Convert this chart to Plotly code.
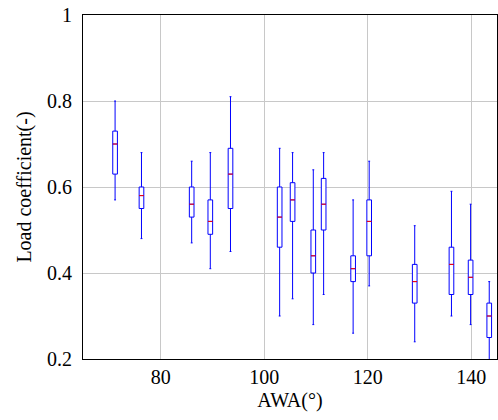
import plotly.graph_objects as go

awa = [71.2, 76.3, 86.0, 89.6, 93.5, 103.0, 105.5, 109.5, 111.5, 117.2, 120.3, 129.1, 136.2, 139.9, 143.5]
upper = [0.80, 0.68, 0.66, 0.68, 0.81, 0.69, 0.68, 0.64, 0.68, 0.57, 0.66, 0.51, 0.59, 0.56, 0.38]
q3 = [0.73, 0.60, 0.60, 0.57, 0.69, 0.60, 0.61, 0.50, 0.62, 0.44, 0.57, 0.42, 0.46, 0.43, 0.33]
median = [0.70, 0.58, 0.56, 0.52, 0.63, 0.53, 0.57, 0.44, 0.56, 0.41, 0.52, 0.38, 0.42, 0.39, 0.30]
q1 = [0.63, 0.55, 0.53, 0.49, 0.55, 0.46, 0.52, 0.40, 0.50, 0.38, 0.44, 0.33, 0.35, 0.35, 0.25]
lower = [0.57, 0.48, 0.47, 0.41, 0.45, 0.30, 0.34, 0.28, 0.35, 0.26, 0.37, 0.24, 0.30, 0.28, 0.17]

box_w = 0.9

fig = go.Figure()
fig.add_trace(go.Box(
    x=awa, q1=q1, median=median, q3=q3, lowerfence=lower, upperfence=upper,
    width=box_w, whiskerwidth=0.4,
    line=dict(color="blue", width=1), fillcolor="white",
    boxpoints=False, showlegend=False, hoverinfo="skip",
))

mx, my = [], []
for a, m in zip(awa, median):
    mx += [a - box_w / 2, a + box_w / 2, None]
    my += [m, m, None]
fig.add_trace(go.Scatter(x=mx, y=my, mode="lines", line=dict(color="red", width=1),
                         showlegend=False, hoverinfo="skip"))

font = dict(family="Liberation Serif, DejaVu Serif, serif", size=20, color="black")
fig.update_layout(
    width=498, height=420,
    margin=dict(l=83, r=1, t=15, b=61, autoexpand=False),
    plot_bgcolor="white", paper_bgcolor="white",
    font=font,
)
fig.update_xaxes(
    range=[65, 145], tickvals=[80, 100, 120, 140],
    showgrid=True, gridcolor="#c8c8c8", gridwidth=1,
    showline=True, linecolor="black", linewidth=1, mirror=True,
    ticks="", zeroline=False, automargin=False, ticklabeloverflow="allow",
    title=dict(text="AWA(°)", font=font, standoff=5),
)
fig.update_yaxes(
    range=[0.2, 1.0], tickvals=[0.2, 0.4, 0.6, 0.8, 1.0], ticktext=["0.2", "0.4", "0.6", "0.8", "1"],
    showgrid=True, gridcolor="#c8c8c8", gridwidth=1,
    showline=True, linecolor="black", linewidth=1, mirror=True,
    ticks="", zeroline=False, automargin=False, ticklabeloverflow="allow",
    ticklabelstandoff=6,
    title=dict(text="Load coefficient(-)", font=font, standoff=10),
)
fig.write_html(
    "out.html",
    config={"displayModeBar": False},
    post_script="document.body.style.margin='0';document.body.style.overflow='hidden';",
)
